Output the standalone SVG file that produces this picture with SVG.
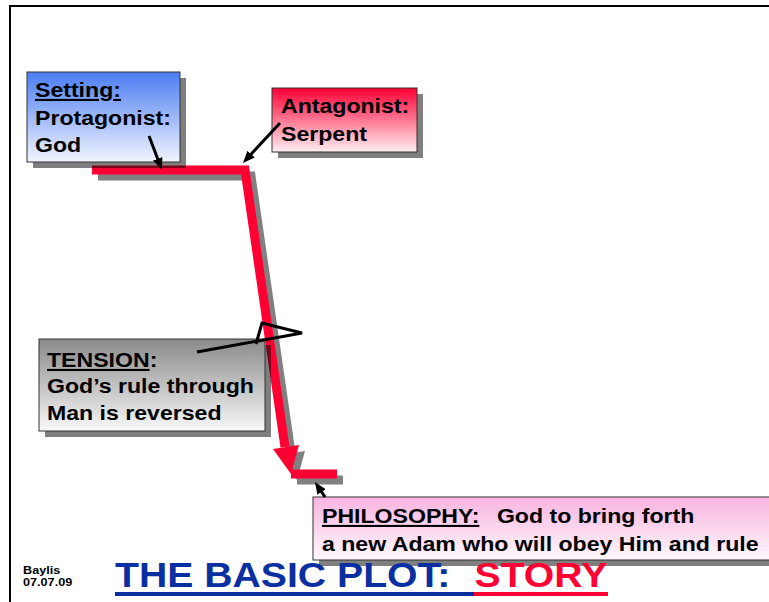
<svg xmlns="http://www.w3.org/2000/svg" width="769" height="602" viewBox="0 0 769 602">
  <defs>
    <linearGradient id="gBlue" x1="0" y1="0" x2="0" y2="1">
      <stop offset="0" stop-color="#4a7cf2"/>
      <stop offset="1" stop-color="#f2f5ff"/>
    </linearGradient>
    <linearGradient id="gRed" x1="0" y1="0" x2="0" y2="1">
      <stop offset="0" stop-color="#ff0033"/>
      <stop offset="1" stop-color="#ffeef2"/>
    </linearGradient>
    <linearGradient id="gGray" x1="0" y1="0" x2="0" y2="1">
      <stop offset="0" stop-color="#8a8a8a"/>
      <stop offset="1" stop-color="#f8f8f8"/>
    </linearGradient>
    <linearGradient id="gPink" x1="0" y1="0" x2="0" y2="1">
      <stop offset="0" stop-color="#f8b4e0"/>
      <stop offset="1" stop-color="#fff8fc"/>
    </linearGradient>
    <marker id="head" markerUnits="userSpaceOnUse" markerWidth="12" markerHeight="10" refX="4" refY="5" orient="auto">
      <path d="M0,0 L12,5 L0,10 z" fill="#000"/>
    </marker>
  </defs>
  <style>
    .frame { stroke:#000; stroke-width:2; fill:none; }
    .shadow { fill:#000; fill-opacity:0.5; }
    .box { stroke:#333; stroke-width:1; }
    .lbl { font-family:"Liberation Sans", Arial, sans-serif; font-weight:bold; font-size:21px; fill:#000; }
    .u { text-decoration:underline; }
    .plot { fill:none; stroke:#ff0033; stroke-width:9; stroke-linejoin:miter; }
    .plotShadow { fill:none; stroke:#808080; stroke-width:9; stroke-linejoin:miter; }
    .ptr { stroke:#000; stroke-width:3; fill:none; }
  </style>

  <rect width="769" height="602" fill="#fff"/>

  <!-- slide frame -->
  <path class="frame" d="M10,602 V6 H769"/>

  <!-- plot line: level start, fall, low end -->
  <g id="plot-line">
    <g transform="translate(6 6)">
      <polyline class="plotShadow" points="92,170 245,170 285,447"/>
      <polygon points="273,449 299,445 291,474" fill="#808080"/>
      <line class="plotShadow" x1="291" y1="474" x2="337" y2="474"/>
    </g>
    <polyline class="plot" points="92,170 245,170 285,447"/>
    <polygon points="273,449 299,445 291,474" fill="#ff0033"/>
    <line class="plot" x1="291" y1="474" x2="337" y2="474"/>
  </g>

  <g id="setting">
    <rect class="shadow" x="33" y="78" width="153" height="90"/>
    <rect class="box" x="27" y="72" width="153" height="90" fill="url(#gBlue)"/>
    <text class="lbl" transform="translate(35 97) scale(1.1 1)">
      <tspan class="u" x="0">Setting:</tspan>
      <tspan x="0" dy="28">Protagonist:</tspan>
      <tspan x="0" dy="27">God</tspan>
    </text>
  </g>

  <g id="antagonist">
    <rect class="shadow" x="278" y="94" width="145" height="64"/>
    <rect class="box" x="272" y="88" width="145" height="64" fill="url(#gRed)"/>
    <text class="lbl" transform="translate(281 113) scale(1.1 1)">
      <tspan x="0">Antagonist:</tspan>
      <tspan x="0" dy="28">Serpent</tspan>
    </text>
  </g>

  <g id="tension">
    <rect class="shadow" x="45" y="345" width="226" height="92"/>
    <rect class="box" x="39" y="339" width="226" height="92" fill="url(#gGray)"/>
    <text class="lbl" transform="translate(47 367) scale(1.1 1)">
      <tspan x="0"><tspan class="u">TENSION</tspan>:</tspan>
      <tspan x="0" dy="26">God’s rule through</tspan>
      <tspan x="0" dy="27">Man is reversed</tspan>
    </text>
  </g>

  <g id="philosophy">
    <rect class="shadow" x="319" y="503" width="460" height="63"/>
    <rect class="box" x="313" y="497" width="460" height="63" fill="url(#gPink)"/>
    <text class="lbl" transform="translate(322 523) scale(1.1 1)" xml:space="preserve"><tspan class="u">PHILOSOPHY:</tspan>  <tspan x="159">God to bring forth</tspan><tspan x="0" y="28">a new Adam who will obey Him and rule</tspan></text>
  </g>

  <!-- pointers from the labels to the plot line -->
  <g id="connectors">
    <line class="ptr" x1="149" y1="136" x2="159.1" y2="162.5" marker-end="url(#head)"/>
    <line class="ptr" x1="280" y1="123" x2="248.4" y2="157.1" marker-end="url(#head)"/>
    <line class="ptr" x1="325" y1="497" x2="319.4" y2="488.7" marker-end="url(#head)"/>
    <polyline class="ptr" points="197,352 302,333 262,323 256,344" stroke-linejoin="miter"/>
  </g>

  <g id="footer">
    <text transform="translate(23 574) scale(1.1 1)" font-family="Liberation Sans, Arial, sans-serif" font-weight="bold" font-size="11.5">
      <tspan x="0">Baylis</tspan>
      <tspan x="0" dy="12.5">07.07.09</tspan>
    </text>
    <text transform="translate(115 587) scale(1.12 1)" font-family="Liberation Sans, Arial, sans-serif" font-weight="bold" font-size="35" fill="#0a2fa0" xml:space="preserve">THE BASIC PLOT:  <tspan x="321" fill="#ff0033">STORY</tspan></text>
    <rect x="115" y="592" width="359" height="4" fill="#0a2fa0"/>
    <rect x="474" y="592" width="134" height="4" fill="#ff0033"/>
  </g>
</svg>
